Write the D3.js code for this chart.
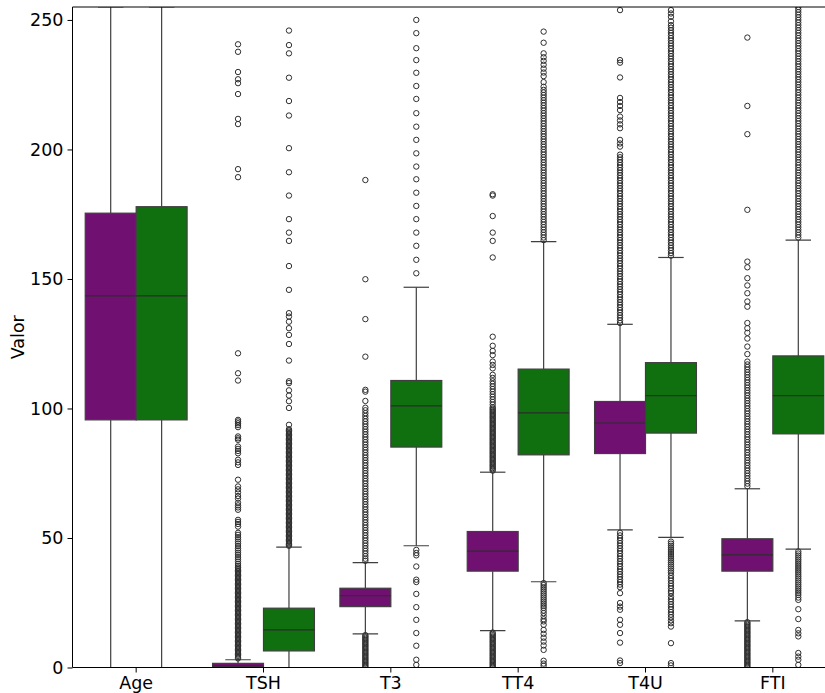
<!DOCTYPE html>
<html>
<head>
<meta charset="utf-8">
<script src="https://cdn.jsdelivr.net/npm/d3@7"></script>
<style>
  html, body { margin: 0; padding: 0; background: #fff; }
  svg { display: block; font-family: "DejaVu Sans", sans-serif; }
</style>
</head>
<body>
<script>
// Variables on the x axis and the y tick values
const categories = ["Age", "TSH", "T3", "TT4", "T4U", "FTI"];
const yTicks = [0, 50, 100, 150, 200, 250];

// Box statistics, first group (purple)
const q1A  = [95.6, 0.2, 23.5, 37.2, 82.6, 37.2];
const medA = [143.5, 0.6, 27.7, 44.9, 94.4, 43.5];
const q3A  = [175.4, 1.6, 30.6, 52.5, 102.7, 49.7];
const loA  = [0, 0, 13.0, 14.2, 53.1, 18.0];
const hiA  = [255, 3.0, 40.5, 75.4, 132.5, 69.0];

// Box statistics, second group (green)
const q1B  = [95.6, 6.4, 85.1, 82.1, 90.5, 90.2];
const medB = [143.5, 14.5, 101.0, 98.3, 105.0, 105.0];
const q3B  = [177.9, 22.9, 110.8, 115.2, 117.7, 120.3];
const loB  = [0, 0, 47.0, 33.1, 50.2, 45.7];
const hiB  = [255, 46.5, 146.8, 164.4, 158.3, 165.0];

// Outliers, first group
const ageOutA = [];
const tshOutA = [257, 240.6, 237.7, 229.9, 227.1, 225.6, 221.4, 211.8, 209.8, 192.4, 189.3, 121.3, 113.6, 110.8,
  95.6, 95, 94.3, 93.6, 92.8, 89.2, 88.5, 87.9, 85.3, 84.4, 83.6, 82.7, 80.2, 79.2, 78.2, 72.5, 69.9, 68.8, 67.6,
  66.2, 65.2, 63.6, 62.6, 61.8, 60.9, 57, 56.2, 55.4, 54.4, 52, 51.2, 50.3, 49.5, 48.6, 47.8, 46.9, 46, 45.2, 44.3,
  43.5, 42.6, 41.8, 40.9, 40, 39.2, 38.5, 38, 37.5, 37, 36.5, 36, 35.5, 35, 34.5, 34, 33.5, 33, 32.5, 32, 31.5, 31,
  30.5, 30, 29.5, 29, 28.5, 28, 27.5, 27, 26.5, 26, 25.5, 25, 24.5, 24, 23.5, 23, 22.5, 22, 21.5, 21, 20.5, 20,
  19.5, 19, 18.5, 18, 17.5, 17, 16.5, 16, 15.5, 15, 14.5, 14, 13.5, 13, 12.5, 12, 11.5, 11, 10.5, 10, 9.5, 9, 8.5,
  8, 7.5, 7, 6.5, 6, 5.5, 5, 4.5, 4, 3.5];
const t3OutA = [257, 188.2, 149.9, 134.5, 120, 107.2, 106.5, 102.9, 100.3, 99.3, 98.2, 97.1, 96, 95, 94, 93, 92,
  91, 90, 89, 88, 87, 86, 85, 84, 83, 82, 81, 80, 79, 78, 77, 76, 75, 74, 73, 72, 71, 70, 69, 68, 67, 66, 65, 64,
  63, 62, 61, 60, 59, 58, 57, 56, 55, 54, 53, 52, 51, 50, 49, 48, 47, 46, 45, 44, 43, 42, 41.2,
  12.5, 12, 11.5, 11, 10.5, 10, 9.5, 9, 8.5, 8, 7.5, 7, 6.5, 6, 5.5, 5, 4.5, 4, 3.5, 3, 2.5, 2, 1.5, 1, 0.5, 0];
const tt4OutA = [257, 182.7, 182.2, 174.3, 167.9, 164.7, 158.3, 127.7, 124.2, 122.2, 120.6, 118.1, 116.8, 115.5,
  113, 111.8, 110.5, 109.5, 108.5, 107.5, 106.5, 105.5, 104.5, 103.5, 102.5, 101.5, 100.5, 100, 99.5, 99, 98.5, 98,
  97.5, 97, 96.5, 96, 95.5, 95, 94.5, 94, 93.5, 93, 92.5, 92, 91.5, 91, 90.5, 90, 89.5, 89, 88.5, 88, 87.5, 87,
  86.5, 86, 85.5, 85, 84.5, 84, 83.5, 83, 82.5, 82, 81.5, 81, 80.5, 80, 79.5, 79, 78.5, 78, 77.5, 77, 76.5, 76,
  13.5, 13, 12.5, 12, 11.5, 11, 10.5, 10, 9.5, 9, 8.5, 8, 7.5, 7, 6.5, 6, 5.5, 5, 4.5, 4, 3.5, 3, 2.5, 2, 1.5, 1,
  0.5, 0];
const t4uOutA = [257, 253.8, 234.5, 233.5, 227.8, 219.9, 218.3, 216.8, 215.2, 212.7, 211.2, 209.7, 208.2, 203.7,
  202.3, 201.1, 198, 197, 196, 195, 194, 193, 192, 191, 190, 189, 188, 187, 186, 185, 184, 183, 182, 181, 180, 179,
  178, 177, 176, 175, 174, 173, 172, 171, 170, 169, 168, 167, 166, 165, 164, 163, 162, 161, 160, 159, 158, 157,
  156, 155, 154, 153, 152, 151, 150, 149, 148, 147, 146, 145, 144, 143, 142, 141, 140, 139, 138, 137, 136, 135,
  134, 133, 52, 51, 50, 49, 48, 47, 46, 45, 44, 43, 42, 41, 40, 39, 38, 37, 36, 35, 34, 33, 32, 31,
  28.7, 24.9, 23.5, 22.3, 18.4, 16.5, 13.3, 9.6, 2.7, 1.7];
const ftiOutA = [257, 243.2, 216.8, 205.9, 176.7, 156.7, 154.5, 150.3, 147.5, 144.5, 141.3, 139.3, 133, 131, 129.2,
  127, 123.9, 121, 118.1, 117, 116, 115, 114, 113, 112, 111, 110, 109, 108, 107, 106, 105, 104, 103, 102, 101, 100,
  99, 98, 97, 96, 95, 94, 93, 92, 91, 90, 89, 88, 87, 86, 85, 84, 83, 82, 81, 80, 79, 78, 77, 76, 75, 74, 73, 72,
  71, 70, 17.5, 17, 16.5, 16, 15.5, 15, 14.5, 14, 13.5, 13, 12.5, 12, 11.5, 11, 10.5, 10, 9.5, 9, 8.5, 8, 7.5, 7,
  6.5, 6, 5.5, 5, 4.5, 4, 3.5, 3, 2.5, 2, 1.5, 1, 0.5, 0];

// Outliers, second group
const ageOutB = [];
const tshOutB = [258, 245.9, 240.3, 237.1, 227.7, 218.7, 213.1, 200.5, 191.2, 182.2, 173.1, 167.9, 164.7, 155,
  145.8, 136.8, 135.5, 133.5, 131, 128.4, 124.9, 118.5, 110.5, 109.8, 107, 105, 102.8, 100.2, 93.7, 92, 91.5, 91,
  90.5, 90, 89.5, 89, 88.5, 88, 87.5, 87, 86.5, 86, 85.5, 85, 84.5, 84, 83.5, 83, 82.5, 82, 81.5, 81, 80.5, 80,
  79.5, 79, 78.5, 78, 77.5, 77, 76.5, 76, 75.5, 75, 74.5, 74, 73.5, 73, 72.5, 72, 71.5, 71, 70.5, 70, 69.5, 69,
  68.5, 68, 67.5, 67, 66.5, 66, 65.5, 65, 64.5, 64, 63.5, 63, 62.5, 62, 61.5, 61, 60.5, 60, 59.5, 59, 58.5, 58,
  57.5, 57, 56.5, 56, 55.5, 55, 54.5, 54, 53.5, 53, 52.5, 52, 51.5, 51, 50.5, 50, 49.5, 49, 48.5, 48, 47.5, 47];
const t3OutB = [257, 250, 244.9, 239.1, 234.5, 229.6, 224.5, 219.5, 214, 208.8, 203.7, 198.5, 193.4, 188.5, 183.3,
  178.2, 173.1, 167.9, 162.8, 157.4, 152.2, 45.4, 44.2, 43.3, 39, 33.9, 33, 28.4, 23.3, 18.4, 13.3, 8.4, 3, 1];
const tt4OutB = [257, 245.5, 241.2, 237.1, 235.6, 234.2, 232.7, 231.2, 229.7, 228.3, 226, 224.2, 223, 222, 221, 220,
  219, 218, 217, 216, 215, 214, 213, 212, 211, 210, 209, 208, 207, 206, 205, 204, 203, 202, 201, 200, 199, 198,
  197, 196, 195, 194, 193, 192, 191, 190, 189, 188, 187, 186, 185, 184, 183, 182, 181, 180, 179, 178, 177, 176,
  175, 174, 173, 172, 171, 170, 169, 168, 167, 166, 165,
  32.6, 31.8, 31, 30.2, 29.4, 28.6, 27.8, 27, 26.2, 25.4, 24.6, 23.8, 23, 22, 21, 19.8, 18.6, 17.8, 16.5, 14.5, 13,
  11.5, 10, 8.5, 6.8, 2.6, 1.5, 0.7];
const t4uOutB = [257, 253.8, 252.5, 251.2, 249.5, 248, 247, 246, 245, 244, 243, 242, 241, 240, 239, 238, 237, 236,
  235, 234, 233, 232, 231, 230, 229, 228, 227, 226, 225, 224, 223, 222, 221, 220, 219, 218, 217, 216, 215, 214,
  213, 212, 211, 210, 209, 208, 207, 206, 205, 204, 203, 202, 201, 200, 199, 198, 197, 196, 195, 194, 193, 192,
  191, 190, 189, 188, 187, 186, 185, 184, 183, 182, 181, 180, 179, 178, 177, 176, 175, 174, 173, 172, 171, 170,
  169, 168, 167, 166, 165, 164, 163, 162, 161, 160, 159,
  48.6, 47.8, 47, 46.2, 45.4, 44.6, 43.8, 43, 42.2, 41.4, 40.6, 39.8, 39, 38.2, 37.4, 36.6, 35.5, 34.5, 33.5, 32.5,
  31.5, 30.5, 29.5, 28.7, 27.4, 26.4, 25.4, 24.4, 23.4, 22.4, 21.4, 20.4, 19.4, 18.2, 17.1, 15.8, 9.4, 1.7, 0.8];
const ftiOutB = [257, 255, 254, 253, 252, 251, 250, 249, 248, 247, 246, 245, 244, 243, 242, 241, 240, 239, 238, 237,
  236, 235, 234, 233, 232, 231, 230, 229, 228, 227, 226, 225, 224, 223, 222, 221, 220, 219, 218, 217, 216, 215,
  214, 213, 212, 211, 210, 209, 208, 207, 206, 205, 204, 203, 202, 201, 200, 199, 198, 197, 196, 195, 194, 193,
  192, 191, 190, 189, 188, 187, 186, 185, 184, 183, 182, 181, 180, 179, 178, 177, 176, 175, 174, 173, 172, 171,
  170, 169, 168, 167, 166,
  44.8, 44, 43.2, 42.4, 41.6, 40.8, 40, 39.2, 38.4, 37.6, 36.8, 36, 35.2, 34.4, 33.6, 32.8, 32, 31.2, 30.4, 29.6,
  28.8, 28, 27, 26.1, 22.5, 18.7, 14.5, 13.2, 12, 5.6, 4.2, 3, 1];

const outA = [ageOutA, tshOutA, t3OutA, tt4OutA, t4uOutA, ftiOutA];
const outB = [ageOutB, tshOutB, t3OutB, tt4OutB, t4uOutB, ftiOutB];

// Table of boxes built from the arrays above
const groups = [
  { color: "#701070", q1: q1A, med: medA, q3: q3A, lo: loA, hi: hiA, out: outA },
  { color: "#107010", q1: q1B, med: medB, q3: q3B, lo: loB, hi: hiB, out: outB }
];
const boxes = [];
groups.forEach((g, gi) => {
  categories.forEach((c, i) => {
    boxes.push({ cat: c, gi, color: g.color, q1: g.q1[i], med: g.med[i], q3: g.q3[i],
                 lo: g.lo[i], hi: g.hi[i], out: g.out[i] });
  });
});

const W = 825, H = 693;
const pLeft = 72.5, pTop = 7, pBottom = 667.5, pRight = 836.5;
const lineColor = "#3f3f3f";
const fontSize = "17.5px";

const svg = d3.select("body").append("svg").attr("width", W).attr("height", H);

const x = d3.scaleBand().domain(categories).range([pLeft, pRight]).padding(0);
const y = d3.scaleLinear().domain([0, 255]).range([pBottom, pTop]);
const boxW = x.bandwidth() * 0.4;

svg.append("defs").append("clipPath").attr("id", "plotclip")
  .append("rect").attr("x", pLeft).attr("y", pTop).attr("width", pRight - pLeft).attr("height", pBottom - pTop);

const plot = svg.append("g").attr("clip-path", "url(#plotclip)");

boxes.forEach(b => {
  const x0 = x(b.cat) + x.bandwidth() * 0.1 + b.gi * boxW;
  const cx = x0 + boxW / 2;
  const g = plot.append("g");
  // whiskers
  g.append("line").attr("x1", cx).attr("x2", cx).attr("y1", y(b.q3)).attr("y2", y(b.hi))
    .attr("stroke", lineColor).attr("stroke-width", 1.2);
  g.append("line").attr("x1", cx).attr("x2", cx).attr("y1", y(b.q1)).attr("y2", y(b.lo))
    .attr("stroke", lineColor).attr("stroke-width", 1.2);
  // caps
  [b.hi, b.lo].forEach(v => {
    g.append("line").attr("x1", cx - boxW / 4).attr("x2", cx + boxW / 4)
      .attr("y1", y(v)).attr("y2", y(v)).attr("stroke", lineColor).attr("stroke-width", 1.2);
  });
  // box
  g.append("rect").attr("x", x0).attr("y", y(b.q3)).attr("width", boxW)
    .attr("height", Math.max(0, y(b.q1) - y(b.q3)))
    .attr("fill", b.color).attr("stroke", lineColor).attr("stroke-width", 1.2);
  // median
  g.append("line").attr("x1", x0).attr("x2", x0 + boxW).attr("y1", y(b.med)).attr("y2", y(b.med))
    .attr("stroke", "#2d2d2d").attr("stroke-width", 1.2);
  // outliers
  g.selectAll("circle").data(b.out).join("circle")
    .attr("cx", cx).attr("cy", d => y(d)).attr("r", 2.7)
    .attr("fill", "none").attr("stroke", "#2f2f2f").attr("stroke-width", 1);
});

// spines
const spine = svg.append("g").attr("stroke", "#000").attr("stroke-width", 1).attr("fill", "none");
spine.append("line").attr("x1", pLeft).attr("x2", pLeft).attr("y1", pTop).attr("y2", pBottom);
spine.append("line").attr("x1", pLeft).attr("x2", pRight).attr("y1", pBottom).attr("y2", pBottom);
spine.append("line").attr("x1", pLeft).attr("x2", pRight).attr("y1", pTop).attr("y2", pTop);
spine.append("line").attr("x1", pRight).attr("x2", pRight).attr("y1", pTop).attr("y2", pBottom);

// axes
const yAxis = svg.append("g").attr("transform", `translate(${pLeft},0)`)
  .call(d3.axisLeft(y).tickValues(yTicks).tickSize(5).tickPadding(4).tickFormat(d3.format("d")));
const xAxis = svg.append("g").attr("transform", `translate(0,${pBottom})`)
  .call(d3.axisBottom(x).tickSize(5).tickPadding(4));
[yAxis, xAxis].forEach(a => {
  a.attr("font-size", null).attr("font-family", null);
  a.select(".domain").remove();
  a.selectAll("line").attr("stroke", "#000").attr("stroke-width", 1);
  a.selectAll("text").attr("fill", "#000").style("font-size", fontSize)
    .style("font-family", "'DejaVu Sans', sans-serif");
});

svg.append("text")
  .attr("transform", `translate(23.5,${(pTop + pBottom) / 2}) rotate(-90)`)
  .attr("text-anchor", "middle")
  .style("font-size", fontSize).style("font-family", "'DejaVu Sans', sans-serif")
  .text("Valor");
</script>
</body>
</html>
